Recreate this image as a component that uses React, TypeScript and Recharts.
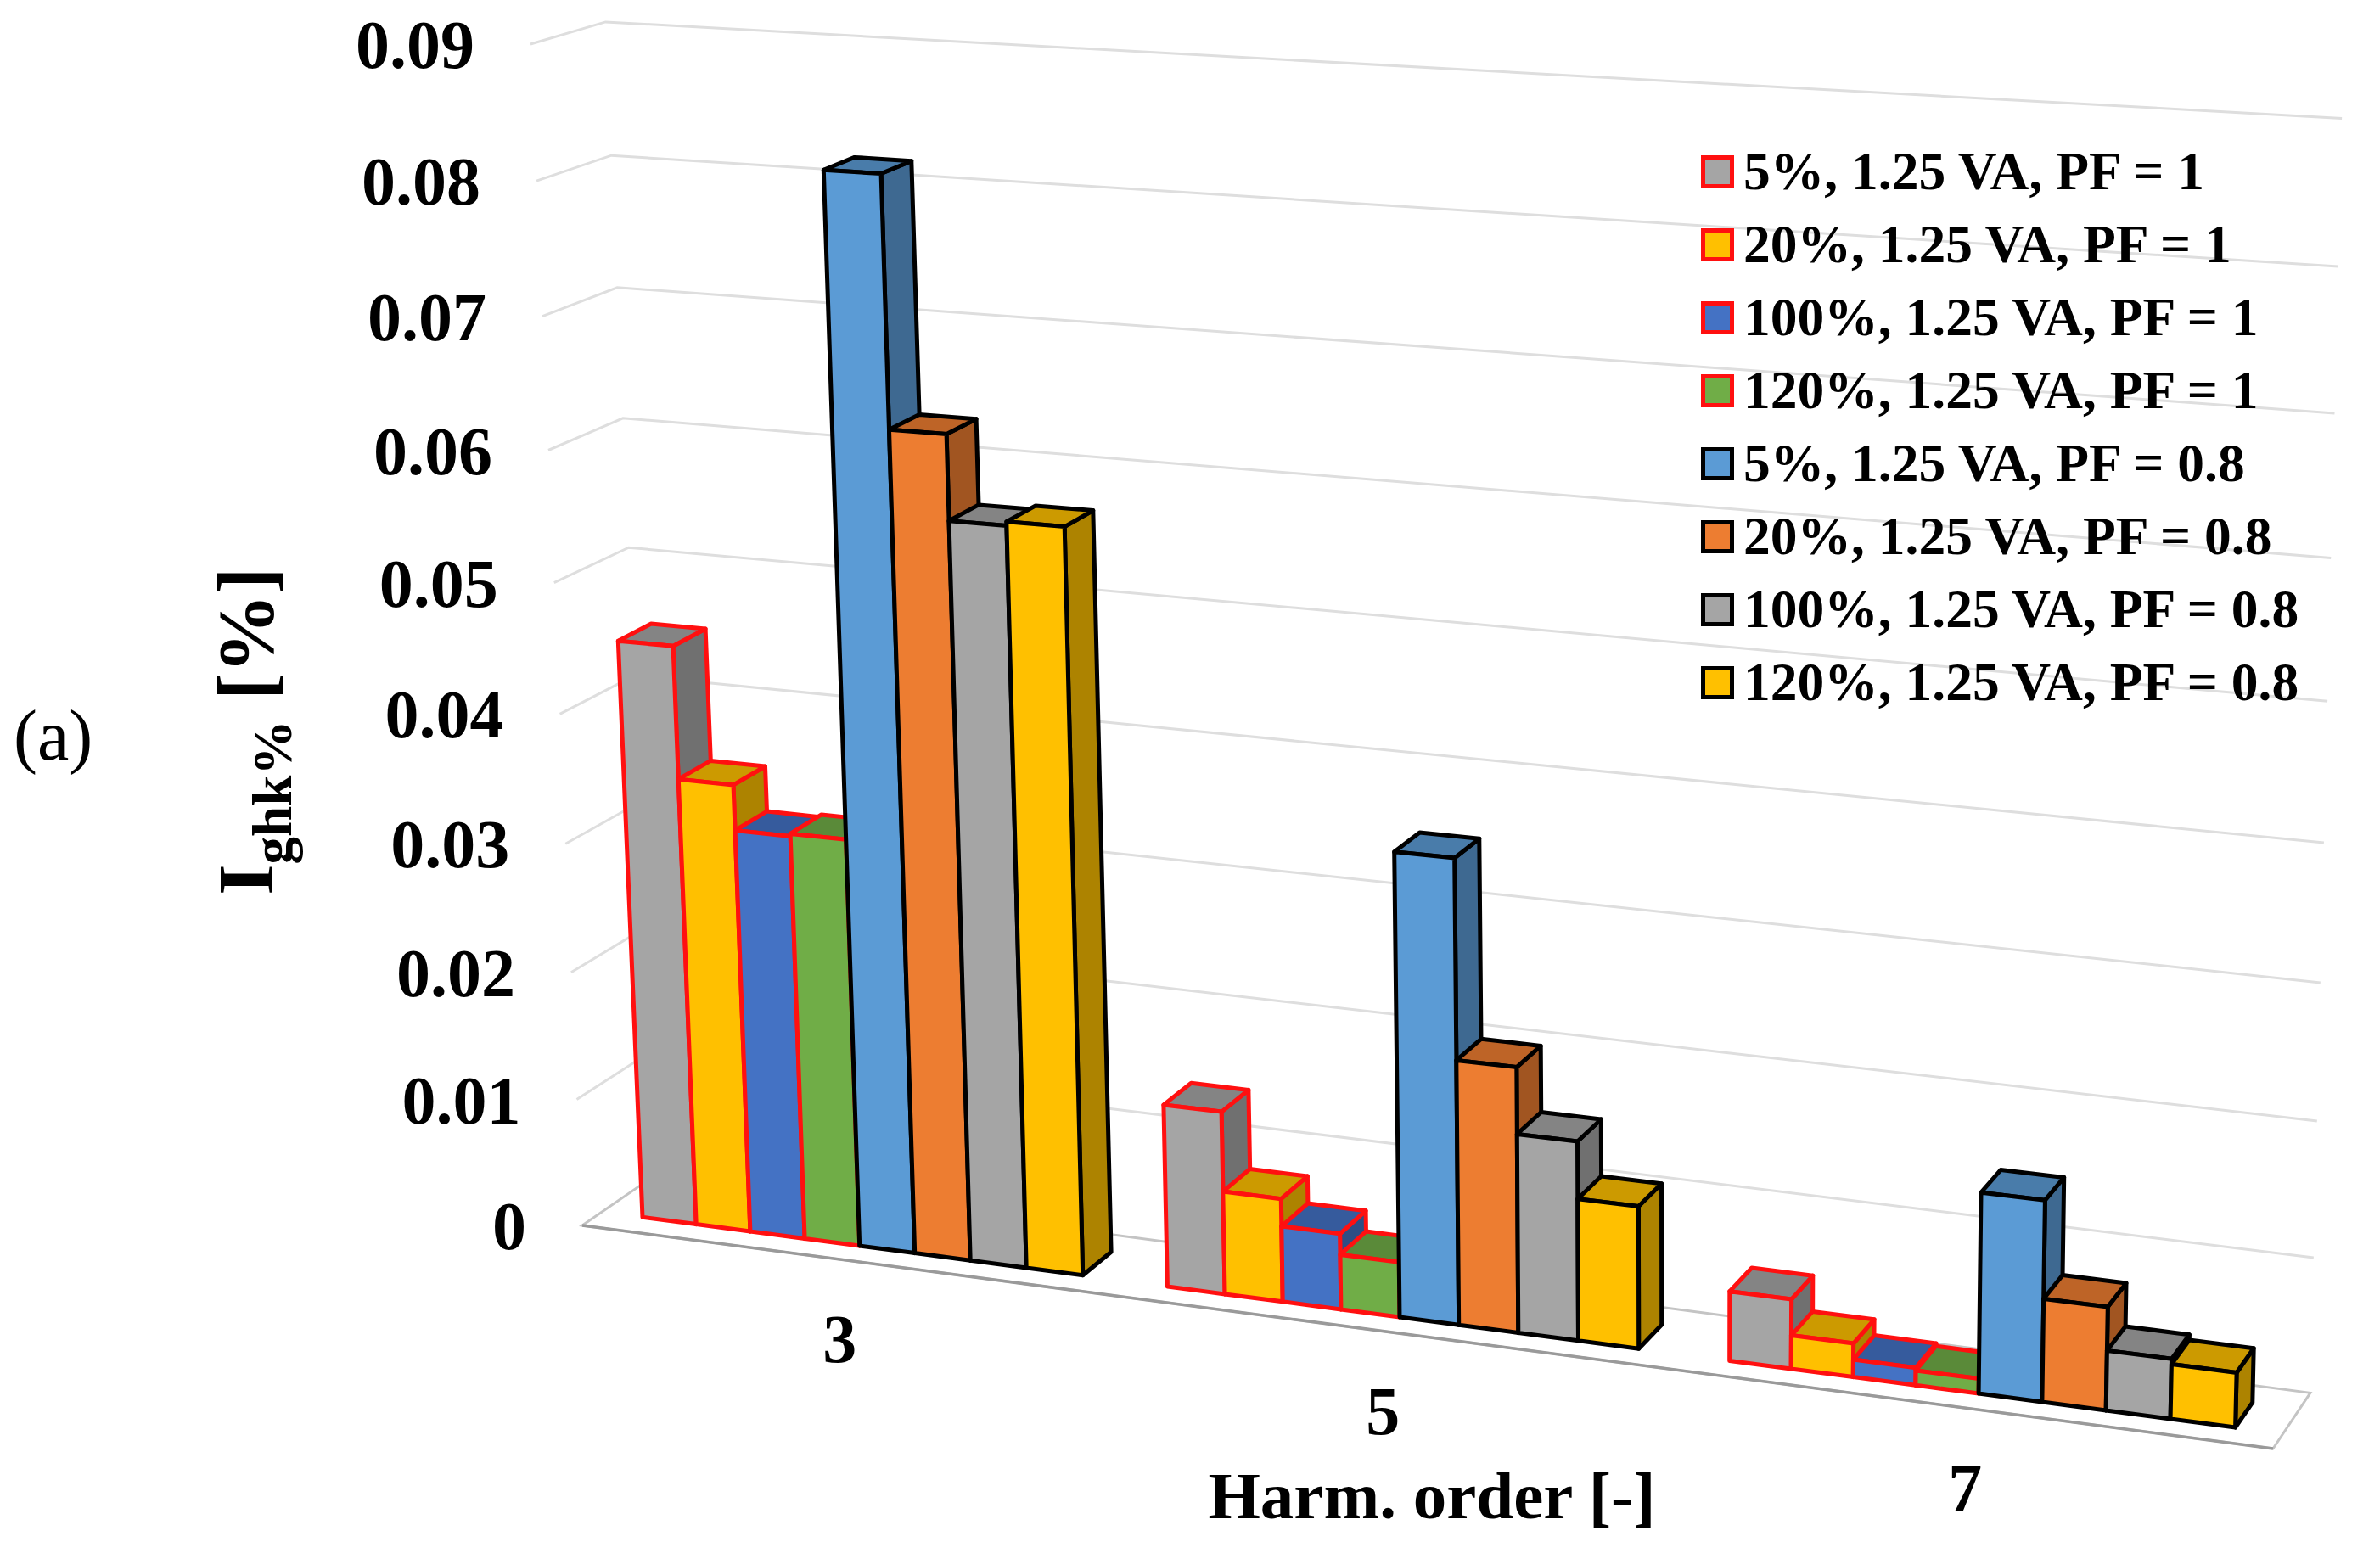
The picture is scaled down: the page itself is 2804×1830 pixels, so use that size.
import { Bar, BarChart, CartesianGrid, Label, Legend, XAxis, YAxis } from "recharts";

const harmonics = ["3", "5", "7"];
const yTicks = [0, 0.01, 0.02, 0.03, 0.04, 0.05, 0.06, 0.07, 0.08, 0.09];

const seriesNames = [
  "5%, 1.25 VA, PF = 1",
  "20%, 1.25 VA, PF = 1",
  "100%, 1.25 VA, PF = 1",
  "120%, 1.25 VA, PF = 1",
  "5%, 1.25 VA, PF = 0.8",
  "20%, 1.25 VA, PF = 0.8",
  "100%, 1.25 VA, PF = 0.8",
  "120%, 1.25 VA, PF = 0.8",
];

const load5Pf1 = [0.0451, 0.014, 0.0052];
const load20Pf1 = [0.0349, 0.0079, 0.0025];
const load100Pf1 = [0.0314, 0.0058, 0.0013];
const load120Pf1 = [0.0316, 0.0042, 0.0011];
const load5Pf08 = [0.0815, 0.035, 0.0148];
const load20Pf08 = [0.0628, 0.02, 0.0076];
const load100Pf08 = [0.0564, 0.015, 0.0044];
const load120Pf08 = [0.0567, 0.0107, 0.004];

const seriesValues = [
  load5Pf1,
  load20Pf1,
  load100Pf1,
  load120Pf1,
  load5Pf08,
  load20Pf08,
  load100Pf08,
  load120Pf08,
];

const fills = ["#A5A5A5", "#FFC000", "#4472C4", "#70AD47", "#5B9BD5", "#ED7D31", "#A5A5A5", "#FFC000"];
const edges = ["#FF1010", "#FF1010", "#FF1010", "#FF1010", "#000000", "#000000", "#000000", "#000000"];

const data = harmonics.map((h, i) => {
  const row: Record<string, any> = { harmonic: h };
  seriesNames.forEach((name, s) => {
    row[name] = seriesValues[s][i];
  });
  return row;
});

const WIDTH = 2804;
const HEIGHT = 1830;
const PLOT_LEFT = 100;
const PLOT_TOP = 0;
const PLOT_W = 2704;
const PLOT_H = 1730;
const SERIF = '"Liberation Serif", "Times New Roman", serif';

// front plane of the 3D box: (0,0) (1,0) (1,1) (0,1) in u / value-fraction space
const quad = [
  [686, 1444],
  [2678, 1707],
  [2716, 168],
  [625, 52],
];
const depthPoint = [4700, -1320];
const BAR_FRONT = 0.0058;
const BAR_BACK = 0.0155;
const WALL_BACK = 0.0217;

function makeHomography(q: number[][]) {
  const [[x0, y0], [x1, y1], [x2, y2], [x3, y3]] = q;
  const dx1 = x1 - x2;
  const dx2 = x3 - x2;
  const sx = x0 - x1 + x2 - x3;
  const dy1 = y1 - y2;
  const dy2 = y3 - y2;
  const sy = y0 - y1 + y2 - y3;
  const det = dx1 * dy2 - dx2 * dy1;
  const g = (sx * dy2 - dx2 * sy) / det;
  const h = (dx1 * sy - sx * dy1) / det;
  const a = x1 - x0 + g * x1;
  const b = x3 - x0 + h * x3;
  const d = y1 - y0 + g * y1;
  const e = y3 - y0 + h * y3;
  return (u: number, v: number) => {
    const w = g * u + h * v + 1;
    return [(a * u + b * v + x0) / w, (d * u + e * v + y0) / w];
  };
}

const homography = makeHomography(quad);

// flat chart pixel + depth -> picture pixel
function project(x: number, y: number, depth: number, liftY = 0) {
  const u = (x - PLOT_LEFT) / PLOT_W;
  const v = 1 - (y - PLOT_TOP) / PLOT_H;
  const [px, py] = homography(u, v);
  const vy = depthPoint[1] + liftY * v;
  return [px + depth * (depthPoint[0] - px), py + depth * (vy - py)];
}

const toPoints = (pts: number[][]) => pts.map((p) => p[0].toFixed(1) + "," + p[1].toFixed(1)).join(" ");

function shade(hex: string, k: number) {
  const n = parseInt(hex.slice(1), 16);
  const c = [(n >> 16) & 255, (n >> 8) & 255, n & 255].map((v) => Math.round(v * k));
  return `rgb(${c[0]},${c[1]},${c[2]})`;
}

function Bar3D(props: any) {
  const { x, y, width, height, index2 } = props;
  const fill = fills[index2];
  const stroke = edges[index2];
  const bottom = y + height;
  const right = x + width;
  const fl = project(x, y, BAR_FRONT);
  const fr = project(right, y, BAR_FRONT);
  const bl = project(x, bottom, BAR_FRONT);
  const br = project(right, bottom, BAR_FRONT);
  const tl2 = project(x, y, BAR_BACK);
  const tr2 = project(right, y, BAR_BACK);
  const br2 = project(right, bottom, BAR_BACK);
  const common = { stroke, strokeWidth: 5, strokeLinejoin: "round" as const };
  return (
    <g>
      <polygon points={toPoints([fr, tr2, br2, br])} fill={shade(fill, 0.68)} {...common} />
      <polygon points={toPoints([fl, tl2, tr2, fr])} fill={shade(fill, 0.8)} {...common} />
      <polygon points={toPoints([fl, fr, br, bl])} fill={fill} {...common} />
    </g>
  );
}

function GridLine(props: any) {
  const { y1 } = props;
  const left = PLOT_LEFT;
  const right = PLOT_LEFT + PLOT_W;
  const a = project(left, y1, 0);
  const b = project(left, y1, WALL_BACK, 170);
  const c = project(right, y1, WALL_BACK, 170);
  const isFloor = Math.abs(y1 - (PLOT_TOP + PLOT_H)) < 1;
  if (isFloor) {
    const d = project(right, y1, 0);
    return (
      <g>
        <polygon points={toPoints([a, b, c, d])} fill="none" stroke="#c4c4c4" strokeWidth={3} />
        <polyline points={toPoints([a, d])} fill="none" stroke="#9a9a9a" strokeWidth={3.5} />
      </g>
    );
  }
  return <polyline points={toPoints([a, b, c])} fill="none" stroke="#dedede" strokeWidth={3} />;
}

function YTick(props: any) {
  const { y, payload } = props;
  const p = project(PLOT_LEFT, y, 0);
  return (
    <text x={p[0] - 66} y={p[1] + 28} textAnchor="end" fontFamily={SERIF} fontWeight={700} fontSize={80} fill="#000">
      {payload.value}
    </text>
  );
}

function XTick(props: any) {
  const { x, payload } = props;
  const p = project(x, PLOT_TOP + PLOT_H, 0);
  return (
    <text x={p[0] - 1} y={p[1] + 121} textAnchor="middle" fontFamily={SERIF} fontWeight={700} fontSize={80} fill="#000">
      {payload.value}
    </text>
  );
}

function YTitle() {
  return (
    <g fontFamily={SERIF} fill="#000">
      <text transform="rotate(-90 321 1055)" x={321} y={1055} fontWeight={700} fontSize={94}>
        <tspan>I</tspan>
        <tspan dy={22} fontSize={65}>ghk%</tspan>
        <tspan dy={-22}> [%]</tspan>
      </text>
      <text x={16} y={895} fontSize={84}>(a)</text>
    </g>
  );
}

function XTitle() {
  return (
    <text x={1687} y={1789} textAnchor="middle" fontFamily={SERIF} fontWeight={700} fontSize={79} fill="#000">
      Harm. order [-]
    </text>
  );
}

function LegendBox(props: any) {
  const items = props.payload || [];
  return (
    <div style={{ fontFamily: SERIF, fontWeight: 700, fontSize: 63.5, color: "#000" }}>
      {items.map((item: any) => {
        const i = seriesNames.indexOf(item.value);
        return (
          <div key={item.value} style={{ display: "flex", alignItems: "center", height: 86, whiteSpace: "nowrap" }}>
            <span
              style={{
                display: "inline-block",
                boxSizing: "border-box",
                width: 39,
                height: 39,
                marginRight: 11,
                background: fills[i],
                border: `5px solid ${edges[i]}`,
              }}
            />
            {item.value}
          </div>
        );
      })}
    </div>
  );
}

export default function App() {
  return (
    <div style={{ position: "absolute", left: 0, top: 0, width: WIDTH, height: HEIGHT, background: "#fff" }}>
      <BarChart
        width={WIDTH}
        height={HEIGHT}
        data={data}
        margin={{ top: 0, right: 0, bottom: 0, left: 0 }}
        barGap={0}
        barCategoryGap="8%"
      >
        <CartesianGrid vertical={false} horizontal={(p: any) => <GridLine key={p.key} {...p} />} />
        <XAxis
          dataKey="harmonic"
          height={100}
          axisLine={false}
          tickLine={false}
          interval={0}
          tick={(p: any) => <XTick {...p} />}
        >
          <Label content={() => <XTitle />} />
        </XAxis>
        <YAxis
          width={100}
          domain={[0, 0.09]}
          ticks={yTicks}
          axisLine={false}
          tickLine={false}
          interval={0}
          tick={(p: any) => <YTick {...p} />}
        >
          <Label content={() => <YTitle />} />
        </YAxis>
        <Legend
          layout="horizontal"
          verticalAlign="middle"
          itemSorter={null}
          wrapperStyle={{ position: "absolute", left: 2004, top: 159, width: 780, height: 700 }}
          content={(p: any) => <LegendBox {...p} />}
        />
        {seriesNames.map((name, s) => (
          <Bar
            key={name}
            dataKey={name}
            isAnimationActive={false}
            fill={fills[s]}
            stroke={edges[s]}
            shape={(p: any) => <Bar3D {...p} index2={s} />}
          />
        ))}
      </BarChart>
    </div>
  );
}
